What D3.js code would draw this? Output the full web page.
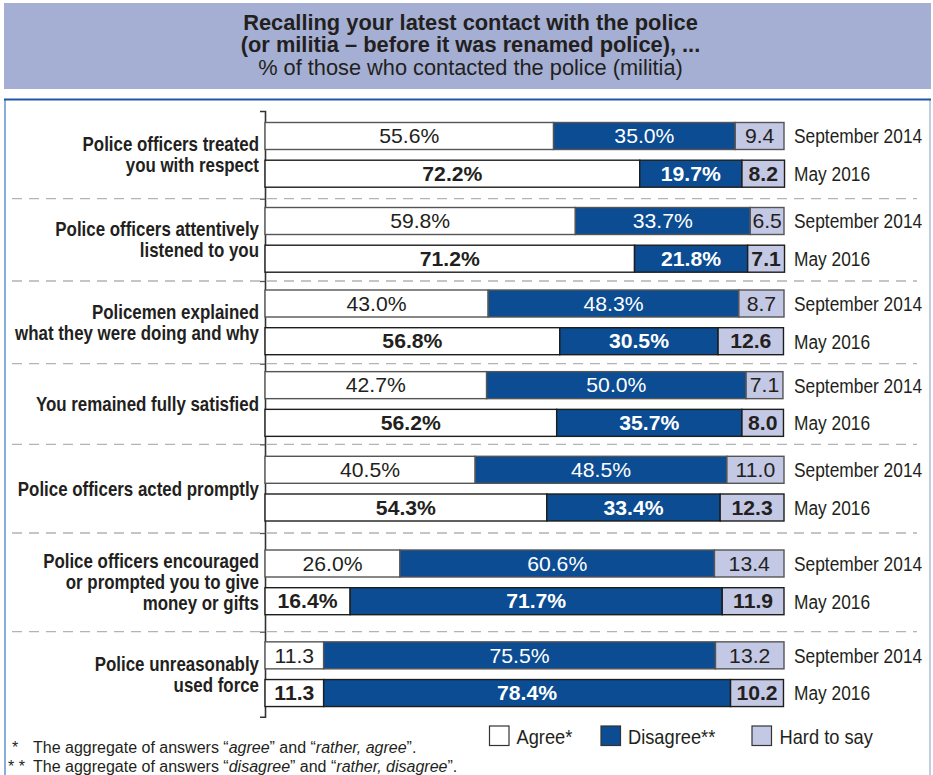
<!DOCTYPE html>
<html>
<head>
<meta charset="utf-8">
<script src="https://cdn.jsdelivr.net/npm/d3@7"></script>
<style>
  html, body { margin: 0; padding: 0; background: #fff; }
  svg { display: block; }
</style>
</head>
<body>
<svg id="chart" width="933" height="775"></svg>
<script>
// ---------------- DATA ----------------
const titleLines = [
  "Recalling your latest contact with the police",
  "(or militia \u2013 before it was renamed police), ..."
];
const subtitle = "% of those who contacted the police (militia)";

const categories = [
  ["Police officers treated", "you with respect"],
  ["Police officers attentively", "listened to you"],
  ["Policemen explained", "what they were doing and why"],
  ["You remained fully satisfied"],
  ["Police officers acted promptly"],
  ["Police officers encouraged", "or prompted you to give", "money or gifts"],
  ["Police unreasonably", "used force"]
];
const periods = ["September 2014", "May 2016"];
const seriesNames = ["Agree*", "Disagree**", "Hard to say"];

const agreeSep2014    = [55.6, 59.8, 43.0, 42.7, 40.5, 26.0, 11.3];
const disagreeSep2014 = [35.0, 33.7, 48.3, 50.0, 48.5, 60.6, 75.5];
const hardSep2014     = [9.4, 6.5, 8.7, 7.1, 11.0, 13.4, 13.2];

const agreeMay2016    = [72.2, 71.2, 56.8, 56.2, 54.3, 16.4, 11.3];
const disagreeMay2016 = [19.7, 21.8, 30.5, 35.7, 33.4, 71.7, 78.4];
const hardMay2016     = [8.2, 7.1, 12.6, 8.0, 12.3, 11.9, 10.2];

const footnotes = [
  {mark: "*", parts: [["The aggregate of answers \u201c", false], ["agree", true], ["\u201d and \u201c", false], ["rather, agree", true], ["\u201d.", false]]},
  {mark: "* *", parts: [["The aggregate of answers \u201c", false], ["disagree", true], ["\u201d and \u201c", false], ["rather, disagree", true], ["\u201d.", false]]}
];

// ---------------- LAYOUT / STYLE ----------------
const W = 933, H = 775;
const COLORS = { agree: "#ffffff", disagree: "#0b4c93", hard: "#c3c8e4", band: "#a4afd3" };
const PLOT = { left: 265, right: 784, top: 111, bottom: 716.7 };
const GROUP_WEIGHTS = [87.7, 82.3, 82.7, 80.6, 88.7, 98.7, 85.0]; // relative group heights
const BAR_H = 27, BAR_STEP = 37.7;

const F_REG = "'Liberation Sans', Arial, Helvetica, sans-serif";

const svg = d3.select("#chart");

function txt(parent, x, y, str, o) {
  const t = parent.append("text")
    .attr("transform", `translate(${x},${y}) scale(${o.sx || 1},1)`)
    .attr("text-anchor", o.anchor || "start")
    .attr("font-family", o.family || F_REG)
    .attr("font-size", o.size)
    .attr("font-weight", o.weight || "normal")
    .attr("fill", o.fill || "#231f20");
  if (str !== null) t.text(str);
  return t;
}

// ---------------- HEADER ----------------
svg.append("rect").attr("x", 4).attr("y", 3).attr("width", 927).attr("height", 86)
  .attr("fill", COLORS.band);
const hStyleB = {size: 21.5, weight: "bold", sx: 1.015, anchor: "middle"};
txt(svg, 470.5, 29.5, titleLines[0], hStyleB);
txt(svg, 470.5, 52, titleLines[1], hStyleB);
txt(svg, 470.5, 74.5, subtitle, {size: 21.5, sx: 1.013, anchor: "middle"});

// ---------------- FRAME ----------------
svg.append("line").attr("x1", 5).attr("x2", 5).attr("y1", 99).attr("y2", H)
  .attr("stroke", "#86aede").attr("stroke-width", 2);
svg.append("line").attr("x1", 930).attr("x2", 930).attr("y1", 99).attr("y2", H)
  .attr("stroke", "#aebcd3").attr("stroke-width", 1.5);
svg.append("line").attr("x1", 4).attr("x2", 931).attr("y1", 99.5).attr("y2", 99.5)
  .attr("stroke", "#1e58a4").attr("stroke-width", 2);

// ---------------- SCALES ----------------
const x = d3.scaleLinear().domain([0, 100]).range([PLOT.left, PLOT.right]);
const cum = [0];
GROUP_WEIGHTS.forEach((w, i) => cum.push(cum[i] + w));
const yG = d3.scaleLinear().domain([0, cum[cum.length - 1]]).range([PLOT.top, PLOT.bottom]);

const rows = [
  {agree: agreeSep2014, disagree: disagreeSep2014, hard: hardSep2014},
  {agree: agreeMay2016, disagree: disagreeMay2016, hard: hardMay2016}
];

// separators
const g = svg.append("g");
for (let i = 1; i < categories.length; i++) {
  g.append("line").attr("x1", 12).attr("x2", 917)
    .attr("y1", yG(cum[i])).attr("y2", yG(cum[i]))
    .attr("stroke", "#b3b3b3").attr("stroke-width", 1.3)
    .attr("stroke-dasharray", "10,7");
}

// axis
const axis = d3.axisLeft(yG).tickValues(cum.slice(1, -1)).tickSize(5).tickSizeOuter(5).tickFormat("");
const axG = svg.append("g").attr("transform", `translate(${PLOT.left},0)`).call(axis);
axG.select(".domain").attr("stroke", "#333").attr("stroke-width", 1.6);
axG.selectAll(".tick line").attr("stroke", "#555").attr("stroke-width", 1.3);

// bars
categories.forEach((lines, gi) => {
  const c0 = yG(cum[gi]), c1 = yG(cum[gi + 1]);
  const mid = (c0 + c1) / 2;
  const span = BAR_STEP + BAR_H;
  const yb = d3.scaleBand().domain(periods)
    .range([mid - span / 2, mid + span / 2])
    .paddingInner(1 - BAR_H / BAR_STEP).paddingOuter(0);

  // category label
  const lh = 21;
  lines.forEach((ln, li) => {
    const cy = mid + (li - (lines.length - 1) / 2) * lh;
    txt(svg, 259, cy + 7.1, ln, {size: 20, weight: "bold", sx: 0.845, anchor: "end"});
  });

  periods.forEach((p, pi) => {
    const r = rows[pi];
    const a = r.agree[gi], d = r.disagree[gi], h = r.hard[gi];
    const segs = [
      {key: "agree", v0: 0, v1: a, v: a, fill: COLORS.agree, tc: "#231f20", pct: a >= 15},
      {key: "disagree", v0: a, v1: a + d, v: d, fill: COLORS.disagree, tc: "#ffffff", pct: true},
      {key: "hard", v0: a + d, v1: a + d + h, v: h, fill: COLORS.hard, tc: "#231f20", pct: false}
    ];
    const y0 = yb(p), bw = yb.bandwidth();
    const bold = pi === 1;
    const strokeC = bold ? "#1d1d1b" : "#555";
    segs.forEach(s => {
      svg.append("rect")
        .attr("x", x(s.v0)).attr("y", y0)
        .attr("width", x(s.v1) - x(s.v0)).attr("height", bw)
        .attr("fill", s.fill).attr("stroke", strokeC).attr("stroke-width", 1.4);
      const label = s.v.toFixed(1) + (s.pct ? "%" : "");
      txt(svg, (x(s.v0) + x(s.v1)) / 2, y0 + bw / 2 + 7.2, label,
        {size: 20, weight: bold ? "bold" : "normal", sx: 1.06, anchor: "middle", fill: s.tc});
    });
    txt(svg, 794, y0 + bw / 2 + 7.4, p, {size: 21, sx: 0.826});
  });
});

// ---------------- LEGEND ----------------
const legendItems = [
  {name: seriesNames[0], fill: COLORS.agree, bx: 489.5, tx: 516.5},
  {name: seriesNames[1], fill: COLORS.disagree, bx: 601, tx: 628},
  {name: seriesNames[2], fill: COLORS.hard, bx: 752, tx: 779.5}
];
legendItems.forEach(it => {
  svg.append("rect").attr("x", it.bx).attr("y", 726).attr("width", 19.5).attr("height", 19.5)
    .attr("fill", it.fill).attr("stroke", "#333").attr("stroke-width", 1.2);
  txt(svg, it.tx, 743.5, it.name, {size: 21, sx: 0.87});
});

// ---------------- FOOTNOTES ----------------
footnotes.forEach((fn, i) => {
  const by = 753.3 + i * 18.4;
  txt(svg, i === 0 ? 12 : 8, by, fn.mark, {size: 16});
  const t = txt(svg, 33, by, null, {size: 16});
  fn.parts.forEach(([s, it]) => {
    t.append("tspan").attr("font-style", it ? "italic" : "normal").text(s);
  });
});
</script>
</body>
</html>
